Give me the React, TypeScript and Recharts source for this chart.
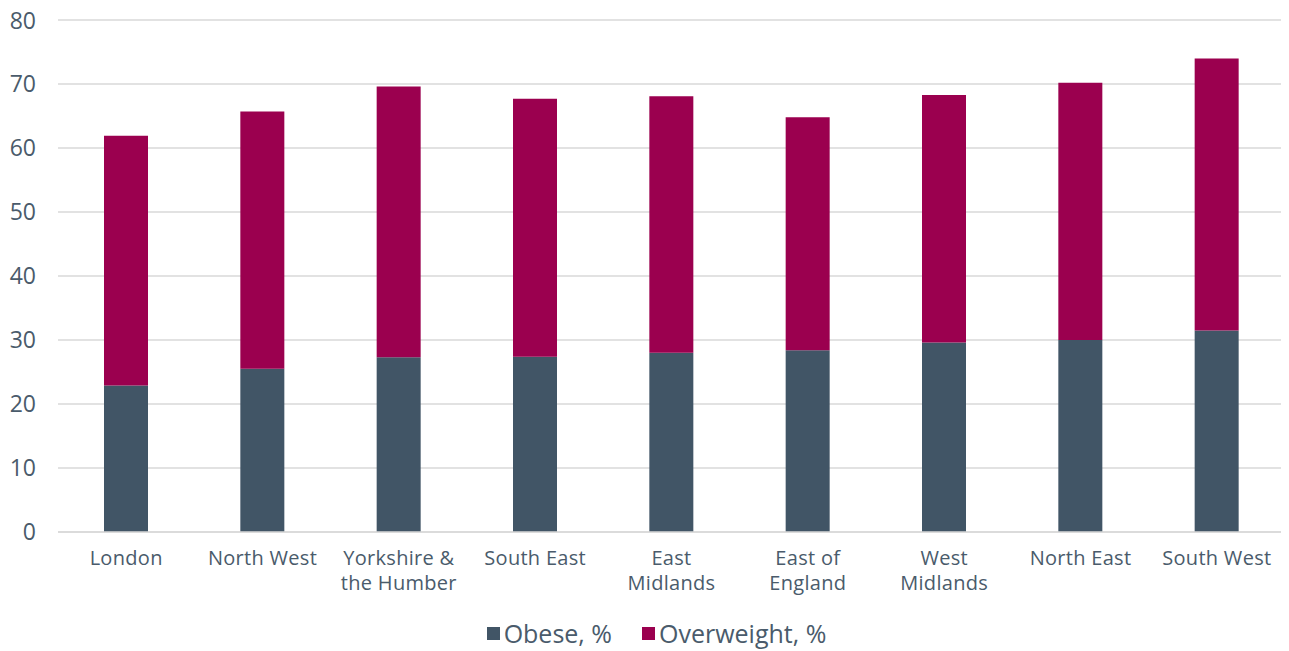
import { BarChart, Bar, XAxis, YAxis, CartesianGrid, Legend } from 'recharts';

const regions = [
  'London',
  'North West',
  'Yorkshire & the Humber',
  'South East',
  'East Midlands',
  'East of England',
  'West Midlands',
  'North East',
  'South West',
];

// label lines as they wrap under each bar
const regionLines = [
  ['London'],
  ['North West'],
  ['Yorkshire &', 'the Humber'],
  ['South East'],
  ['East', 'Midlands'],
  ['East of', 'England'],
  ['West', 'Midlands'],
  ['North East'],
  ['South West'],
];

const obese = [22.9, 25.5, 27.3, 27.4, 28.0, 28.4, 29.6, 30.0, 31.5];
const overweight = [39.0, 40.2, 42.3, 40.3, 40.1, 36.4, 38.7, 40.2, 42.5];
const yTicks = [0, 10, 20, 30, 40, 50, 60, 70, 80];

const OBESE_COLOR = '#415566';
const OVER_COLOR = '#9b004f';
const TEXT_COLOR = '#4a5b6b';
const FONT = '"Open Sans", Roboto, sans-serif';

const data = regions.map((r, i) => ({
  region: r,
  obese: obese[i],
  overweight: overweight[i],
}));

interface TickProps {
  x?: number;
  y?: number;
  index?: number;
}

function RegionTick({ x = 0, y = 0, index = 0 }: TickProps) {
  const lines = regionLines[index] ?? [];
  return (
    <text x={x} y={y} textAnchor="middle" fill={TEXT_COLOR} fontSize={20} letterSpacing={0.3} fontFamily={FONT}>
      {lines.map((l, i) => (
        <tspan key={l} x={x} y={y + 33 + i * 25}>{l}</tspan>
      ))}
    </text>
  );
}

function LegendBox() {
  const items = [
    { label: 'Obese, %', color: OBESE_COLOR },
    { label: 'Overweight, %', color: OVER_COLOR },
  ];
  return (
    <div style={{ display: 'flex', justifyContent: 'center', gap: 30, fontFamily: FONT, fontSize: 25, color: TEXT_COLOR, paddingTop: 1, paddingLeft: 20 }}>
      {items.map((it) => (
        <div key={it.label} style={{ display: 'flex', alignItems: 'center' }}>
          <span style={{ width: 13, height: 13, background: it.color, display: 'inline-block', marginRight: 4 }} />
          <span>{it.label}</span>
        </div>
      ))}
    </div>
  );
}

export default function App() {
  return (
    <BarChart
      width={1281}
      height={643}
      data={data}
      barSize={44}
      margin={{ top: 12, right: 4, left: 0, bottom: 0 }}
      style={{ overflow: 'visible' }}
    >
      <CartesianGrid stroke="#d9d9d9" strokeWidth={1.5} vertical={false} />
      <XAxis
        dataKey="region"
        interval={0}
        height={83}
        tickSize={0}
        tickMargin={0}
        axisLine={{ stroke: '#d9d9d9', strokeWidth: 1.5 }}
        tickLine={false}
        tick={<RegionTick />}
      />
      <YAxis
        domain={[0, 80]}
        ticks={yTicks}
        width={50}
        tickSize={0}
        tickMargin={22}
        axisLine={false}
        tickLine={false}
        tick={{ fontSize: 23, fill: TEXT_COLOR, fontFamily: FONT }}
      />
      <Legend verticalAlign="bottom" height={36} content={<LegendBox />} />
      <Bar dataKey="obese" name="Obese, %" stackId="a" fill={OBESE_COLOR} isAnimationActive={false} />
      <Bar dataKey="overweight" name="Overweight, %" stackId="a" fill={OVER_COLOR} isAnimationActive={false} />
    </BarChart>
  );
}
